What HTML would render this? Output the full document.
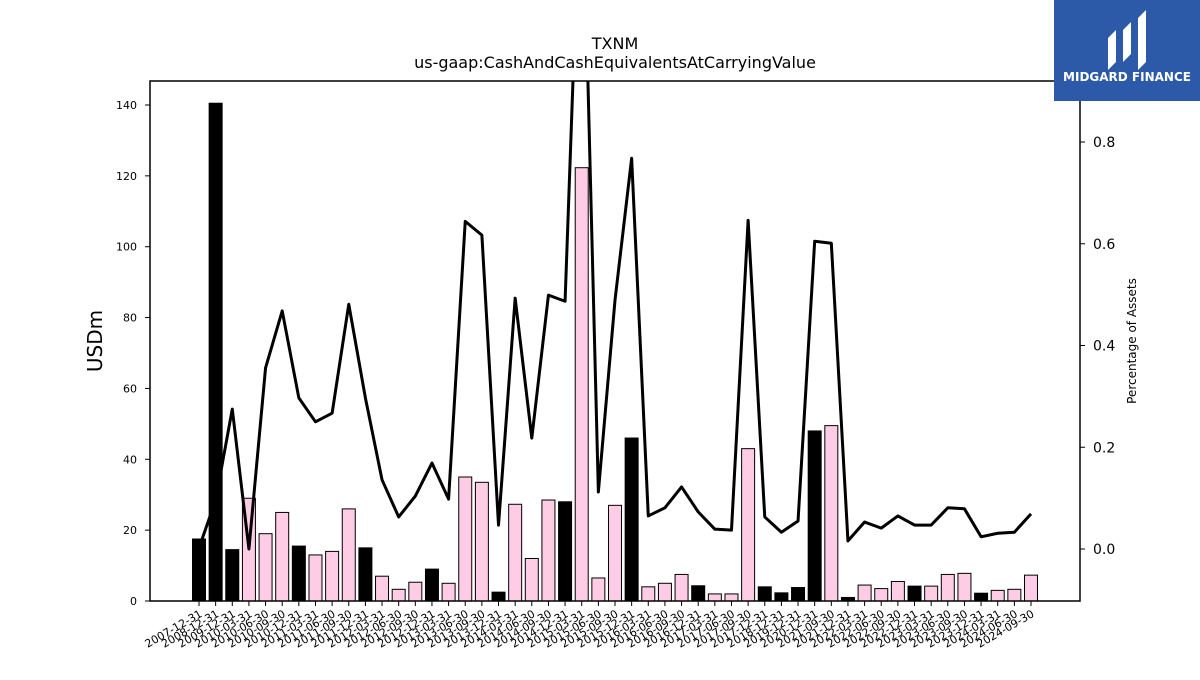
<!DOCTYPE html>
<html><head><meta charset="utf-8"><style>
body{margin:0;background:#fff;font-family:"Liberation Sans","DejaVu Sans",sans-serif}
svg text{font-family:"DejaVu Sans","Liberation Sans",sans-serif}
</style></head><body>
<svg id="c" width="1200" height="675" xmlns="http://www.w3.org/2000/svg">
<rect x="0" y="0" width="1200" height="675" fill="#fff"/>
<text x="615" y="49" text-anchor="middle" font-size="16">TXNM</text>
<text x="615" y="68" text-anchor="middle" font-size="16">us-gaap:CashAndCashEquivalentsAtCarryingValue</text>
<g id="bars"></g>
<g id="line"></g>
<rect x="150" y="81" width="930" height="520" fill="none" stroke="#000" stroke-width="1.5"/>
<g id="ly"></g>
<g id="ry"></g>
<g id="xa"></g>
<text x="0" y="0" transform="translate(102,341) rotate(-90)" text-anchor="middle" font-size="20">USDm</text>
<text x="0" y="0" transform="translate(1136,341) rotate(-90)" text-anchor="middle" font-size="12">Percentage of Assets</text>
<g>
<rect x="1054" y="0" width="146" height="101" fill="#2c5aa8"/>
<path d="M1108 70 L1108 38 L1116 30 L1116 62 Z M1123 62 L1123 30 L1131 22 L1131 54 Z M1138 70 L1138 18 L1146 10 L1146 62 Z" fill="#fff"/>
<text x="1127" y="81" text-anchor="middle" font-size="12" font-weight="bold" fill="#fff">MIDGARD FINANCE</text>
</g>
</svg>
<script>
const categories=["2007-12-31","2008-12-31","2009-12-31","2010-03-31","2010-06-30","2010-09-30","2010-12-31","2011-03-31","2011-06-30","2011-09-30","2011-12-31","2012-03-31","2012-06-30","2012-09-30","2012-12-31","2013-03-31","2013-06-30","2013-09-30","2013-12-31","2014-03-31","2014-06-30","2014-09-30","2014-12-31","2015-03-31","2015-06-30","2015-09-30","2015-12-31","2016-03-31","2016-06-30","2016-09-30","2016-12-31","2017-03-31","2017-06-30","2017-09-30","2017-12-31","2018-12-31","2019-12-31","2020-12-31","2021-09-30","2021-12-31","2022-03-31","2022-06-30","2022-09-30","2022-12-31","2023-03-31","2023-06-30","2023-09-30","2023-12-31","2024-03-31","2024-06-30","2024-09-30"];
const cashValues=[17.5,140.5,14.5,29,19,25,15.5,13,14,26,15,7,3.3,5.3,9,5,35,33.5,2.5,27.3,12,28.5,28,122.3,6.5,27,46,4,5,7.5,4.3,2,2,43,4,2.3,3.8,48,49.5,1,4.5,3.5,5.5,4.2,4.2,7.5,7.8,2.2,3,3.3,7.3];
const annualFlags=[1,1,1,0,0,0,1,0,0,0,1,0,0,0,1,0,0,0,1,0,0,0,1,0,0,0,1,0,0,0,1,0,0,0,1,1,1,1,0,1,0,0,0,1,0,0,0,1,0,0,0];
const pctValues=[0.002,0.096,0.275,0.0,0.356,0.468,0.297,0.25,0.267,0.481,0.297,0.136,0.063,0.104,0.169,0.098,0.644,0.617,0.047,0.493,0.218,0.499,0.487,1.4,0.112,0.489,0.768,0.065,0.081,0.122,0.073,0.039,0.037,0.646,0.063,0.033,0.055,0.605,0.601,0.016,0.053,0.041,0.065,0.047,0.047,0.081,0.079,0.024,0.031,0.033,0.069];
const leftTicks=[0,20,40,60,80,100,120,140];
const rightTicks=[0.0,0.2,0.4,0.6,0.8];
const NS="http://www.w3.org/2000/svg";
const X0=199,DX=(1031-199)/(categories.length-1);
const xS=i=>X0+i*DX;
const yL=v=>601-v*(601-105)/140;
const yR=v=>549-v*(549-142)/0.8;
function mk(t,a,p){const e=document.createElementNS(NS,t);for(const k in a)e.setAttribute(k,a[k]);p.appendChild(e);return e;}
const bars=document.getElementById('bars');
cashValues.forEach((v,i)=>{
 const r=mk('rect',{x:xS(i)-6.5,y:yL(v),width:13,height:601-yL(v),fill:annualFlags[i]?'#000':'#ffcce6',stroke:'#000','stroke-width':1},bars);
 
 
});
const cp=mk('clipPath',{id:'clp'},document.getElementById('c'));
mk('rect',{x:150,y:81,width:930,height:520},cp);
const lg=document.getElementById('line');
const pl=mk('polyline',{points:pctValues.map((v,i)=>xS(i)+','+yR(v)).join(' '),fill:'none',stroke:'#000','stroke-width':3,'stroke-linejoin':'round','clip-path':'url(#clp)'},lg);


const ly=document.getElementById('ly');
leftTicks.forEach(t=>{
 mk('line',{x1:145,x2:150,y1:yL(t),y2:yL(t),stroke:'#000'},ly);
 const tx=mk('text',{x:137,y:yL(t)+4,'text-anchor':'end','font-size':11},ly);
 tx.textContent=t;
 
 
});
const ry=document.getElementById('ry');
rightTicks.forEach(t=>{
 mk('line',{x1:1080,x2:1085,y1:yR(t),y2:yR(t),stroke:'#000'},ry);
 const tx=mk('text',{x:1093,y:yR(t)+5,'font-size':14},ry);
 tx.textContent=t.toFixed(1);
 
 
});
const xa=document.getElementById('xa');
categories.forEach((c,i)=>{
 const x=xS(i);
 mk('line',{x1:x,x2:x,y1:601,y2:606,stroke:'#000'},xa);
 const tx=mk('text',{x:0,y:0,transform:`translate(${x+4},${616}) rotate(-30)`,'text-anchor':'end','font-size':11},xa);
 tx.textContent=c;
 
 
});
</script>
</body></html>
